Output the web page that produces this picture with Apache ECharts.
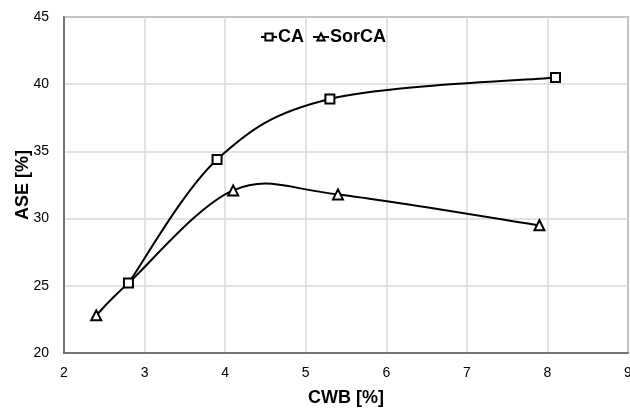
<!DOCTYPE html>
<html>
<head>
<meta charset="utf-8">
<script src="https://cdn.jsdelivr.net/npm/echarts@6/dist/echarts.min.js"></script>
<style>
  html, body { margin: 0; padding: 0; background: #fff; }
  #chart { width: 630px; height: 410px; }
</style>
</head>
<body>
<div id="chart"></div>
<script>
// CWB [%] vs ASE [%] for the two processes
const caCwb = [2.8, 3.9, 5.3, 8.1];
const caAse = [25.2, 34.4, 38.9, 40.5];
// SorCA passes through the shared CA point at 2.8 %
const sorCwb = [2.4, 2.8, 4.1, 5.4, 7.9];
const sorAse = [22.8, 25.2, 32.1, 31.8, 29.5];

const seriesNames = ['CA', 'SorCA'];
const xTitle = 'CWB [%]';
const yTitle = 'ASE [%]';

const pairs = (xs, ys) => xs.map((x, i) => [x, ys[i]]);

// Points shared with the CA series are drawn without their own marker,
// so only the CA square shows there.
const caKeys = new Set(caCwb.map((x, i) => x + ':' + caAse[i]));
const markerData = (xs, ys, hideShared) => xs.map((x, i) => {
  const item = { value: [x, ys[i]] };
  if (hideShared && caKeys.has(x + ':' + ys[i])) item.symbol = 'none';
  return item;
});

// Cardinal-spline curve (tension 1/6, spreadsheet-style smoothing) through
// the points, computed in pixel space from the axis scales.
function smoothCurve(xs, ys) {
  return function (params, api) {
    if (params.dataIndex !== 0) return null;
    const p = xs.map((x, i) => api.coord([x, ys[i]]));
    const n = p.length;
    const at = (i) => p[Math.max(0, Math.min(n - 1, i))];
    const children = [];
    for (let i = 0; i < n - 1; i++) {
      const p0 = at(i - 1), p1 = at(i), p2 = at(i + 1), p3 = at(i + 2);
      children.push({
        type: 'bezierCurve',
        shape: {
          x1: p1[0], y1: p1[1],
          cpx1: p1[0] + (p2[0] - p0[0]) / 6, cpy1: p1[1] + (p2[1] - p0[1]) / 6,
          cpx2: p2[0] - (p3[0] - p1[0]) / 6, cpy2: p2[1] - (p3[1] - p1[1]) / 6,
          x2: p2[0], y2: p2[1]
        },
        style: { stroke: '#000', lineWidth: 2, fill: null }
      });
    }
    return { type: 'group', children };
  };
}

const font = '"Liberation Sans", Arial, sans-serif';

const chart = echarts.init(document.getElementById('chart'), null, { renderer: 'canvas' });

const markerStyle = { color: '#fff', borderColor: '#000', borderWidth: 2 };

chart.setOption({
  animation: false,
  backgroundColor: '#fff',
  grid: {
    left: 64, right: 2, top: 17, bottom: 57,
    containLabel: false, outerBoundsMode: 'none',
    show: true, borderColor: '#595959', borderWidth: 1.5
  },
  legend: {
    left: 255, top: 23,
    itemWidth: 16, itemHeight: 9, itemGap: 8,
    lineStyle: { color: '#000', width: 2, opacity: 1 },
    textStyle: { fontFamily: font, fontWeight: 'bold', fontSize: 18, color: '#000', padding: [0, 0, 0, -4] },
    data: seriesNames
  },
  xAxis: {
    type: 'value', min: 2, max: 9, interval: 1,
    name: xTitle, nameLocation: 'middle', nameGap: 36,
    nameTextStyle: { fontFamily: font, fontWeight: 'bold', fontSize: 18, color: '#000' },
    axisLine: { show: true, lineStyle: { color: '#595959', width: 1.5 } },
    axisTick: { show: false },
    axisLabel: { fontFamily: font, fontSize: 14, color: '#000', margin: 13 },
    splitLine: { show: true, lineStyle: { color: '#d9d9d9', width: 1.5 } }
  },
  yAxis: {
    type: 'value', min: 20, max: 45, interval: 5,
    name: yTitle, nameLocation: 'middle', nameGap: 32, nameRotate: 90,
    nameMoveOverlap: false,
    nameTextStyle: { fontFamily: font, fontWeight: 'bold', fontSize: 18, color: '#000' },
    axisLine: { show: true, lineStyle: { color: '#595959', width: 1.5 } },
    axisTick: { show: false },
    axisLabel: { fontFamily: font, fontSize: 14, color: '#000', margin: 15 },
    splitLine: { show: true, lineStyle: { color: '#d9d9d9', width: 1.5 } }
  },
  series: [
    {
      name: seriesNames[0], type: 'line', z: 4,
      data: markerData(caCwb, caAse, false),
      symbol: 'rect', symbolSize: 9,
      lineStyle: { color: '#000', width: 2, opacity: 0 },
      itemStyle: markerStyle
    },
    {
      name: seriesNames[1], type: 'line', z: 4,
      data: markerData(sorCwb, sorAse, true),
      symbol: 'triangle', symbolSize: 10,
      lineStyle: { color: '#000', width: 2, opacity: 0 },
      itemStyle: markerStyle
    },
    {
      type: 'custom', z: 2, clip: true, silent: true,
      data: pairs(caCwb, caAse),
      renderItem: smoothCurve(caCwb, caAse)
    },
    {
      type: 'custom', z: 2, clip: true, silent: true,
      data: pairs(sorCwb, sorAse),
      renderItem: smoothCurve(sorCwb, sorAse)
    }
  ]
});
</script>
</body>
</html>
